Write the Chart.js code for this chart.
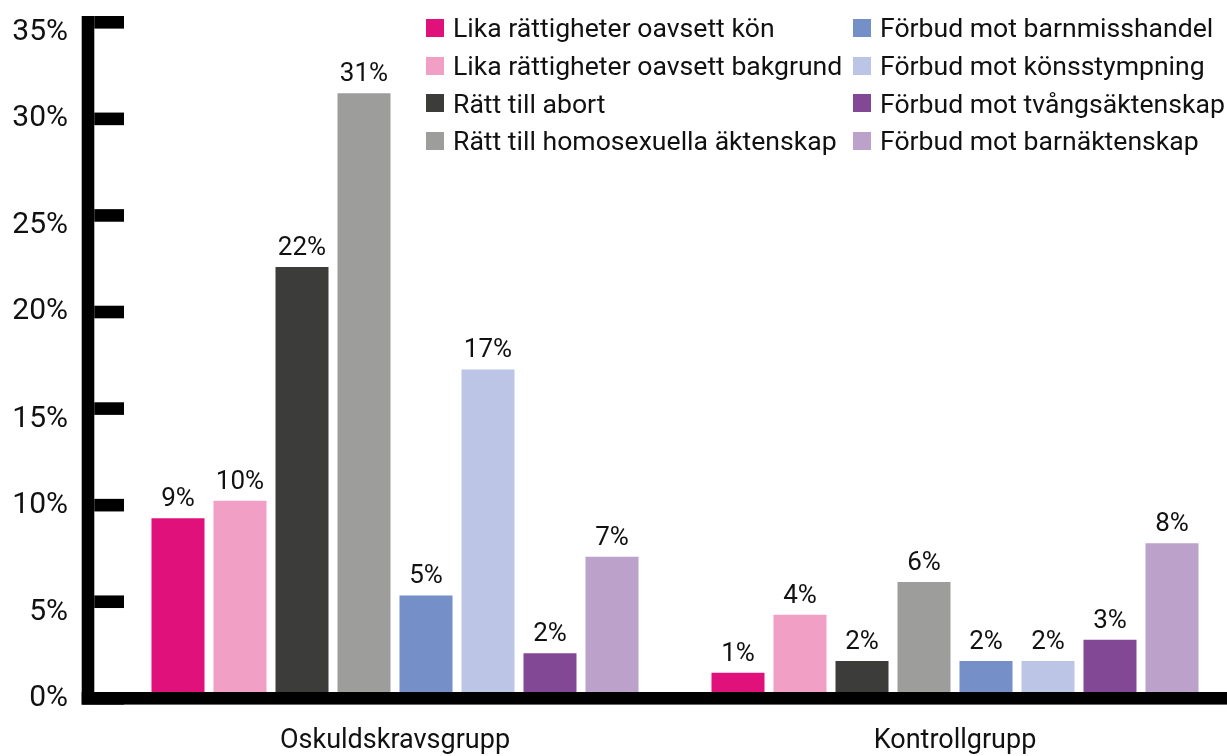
<!DOCTYPE html>
<html>
<head>
<meta charset="utf-8">
<script src="https://cdn.jsdelivr.net/npm/chart.js@4.4.1/dist/chart.umd.min.js"></script>
<style>
  html, body { margin: 0; padding: 0; background: #fff; overflow: hidden; }
  #wrap { position: relative; width: 1240px; height: 756px; }
  #legend {
    position: absolute; left: 426px; top: 9px;
    display: grid; grid-auto-flow: column;
    grid-template-rows: repeat(4, 37.7px);
    grid-template-columns: 427px auto;
    font-family: Roboto, sans-serif; font-size: 26.6px; color: #111;
  }
  .li { display: flex; align-items: center; white-space: nowrap; }
  .sw { width: 18px; height: 18px; margin-right: 9px; flex: none; }
</style>
</head>
<body>
<div id="wrap">
  <canvas id="c" width="1240" height="756"></canvas>
  <div id="legend"></div>
</div>
<script>
const categories = ['Oskuldskravsgrupp', 'Kontrollgrupp'];
const seriesNames = [
  'Lika rättigheter oavsett kön',
  'Lika rättigheter oavsett bakgrund',
  'Rätt till abort',
  'Rätt till homosexuella äktenskap',
  'Förbud mot barnmisshandel',
  'Förbud mot könsstympning',
  'Förbud mot tvångsäktenskap',
  'Förbud mot barnäktenskap'
];
const seriesColors = ['#E0117B', '#F29FC5', '#3C3C3B', '#9D9D9C', '#758FC8', '#BCC5E5', '#834895', '#BCA2CB'];
const oskuldsValues = [9, 9.9, 22, 31, 5, 16.7, 2, 7];
const kontrollValues = [1, 4, 1.6, 5.7, 1.6, 1.6, 2.7, 7.7];
const yTickValues = [0, 5, 10, 15, 20, 25, 30, 35];

const FONT = 'Roboto';

const datasets = seriesNames.map((name, i) => ({
  label: name,
  data: [oskuldsValues[i], kontrollValues[i]],
  backgroundColor: seriesColors[i],
  borderWidth: 0,
  categoryPercentage: 0.8857,
  barPercentage: 0.855
}));

const axisPlugin = {
  id: 'thickAxis',
  afterDraw(chart) {
    const ctx = chart.ctx;
    const y = chart.scales.y;
    const thick = 12.6;
    const lineX = 81.7;
    const tickEnd = 124;
    ctx.save();
    ctx.fillStyle = '#000';
    const zero = y.getPixelForValue(0);
    const top = y.getPixelForValue(yTickValues[yTickValues.length - 1]);
    ctx.fillRect(lineX, top, thick, zero + thick - top);
    ctx.fillRect(lineX, zero, chart.width - lineX, thick);
    yTickValues.forEach(v => {
      const p = y.getPixelForValue(v);
      ctx.fillRect(lineX + thick, p, tickEnd - lineX - thick, thick);
    });
    ctx.restore();
  }
};

const labelPlugin = {
  id: 'barLabels',
  afterDatasetsDraw(chart) {
    const ctx = chart.ctx;
    ctx.save();
    ctx.font = '26px ' + FONT;
    ctx.fillStyle = '#111';
    ctx.textAlign = 'center';
    ctx.textBaseline = 'alphabetic';
    chart.data.datasets.forEach((ds, di) => {
      const meta = chart.getDatasetMeta(di);
      meta.data.forEach((el, i) => {
        ctx.fillText(Math.round(ds.data[i]) + '%', el.x, el.y - 12);
      });
    });
    ctx.restore();
  }
};

const chart = new Chart(document.getElementById('c'), {
  type: 'bar',
  data: { labels: categories, datasets },
  options: {
    responsive: false,
    animation: false,
    layout: { padding: { top: 16, right: 5, bottom: 0, left: 0 } },
    plugins: {
      legend: { display: false },
      tooltip: { enabled: false }
    },
    scales: {
      x: {
        grid: { display: false, drawTicks: false },
        border: { display: true, color: '#9a9a9a', width: 1 },
        ticks: {
          padding: 33,
          color: '#111',
          font: { family: FONT, size: 27 }
        },
        afterFit(s) { s.height = 64; }
      },
      y: {
        min: 0, max: 35,
        grid: { display: false, drawTicks: false },
        border: { display: false },
        afterBuildTicks(s) { s.ticks = yTickValues.map(v => ({ value: v })); },
        ticks: {
          padding: 47,
          labelOffset: 6.2,
          color: '#111',
          font: { family: FONT, size: 30, lineHeight: 0.7067 },
          // odd steps sit a little lower in the reference: push them onto a second line
          callback: (v, i) => (i % 2 === 1 ? ['', v + '%'] : v + '%')
        },
        afterFit(s) { s.width = 115; s.paddingTop = 0; s.paddingBottom = 0; }
      }
    }
  },
  plugins: [axisPlugin, labelPlugin]
});

const legendEl = document.getElementById('legend');
chart.options.plugins.legend.labels.generateLabels(chart).forEach(item => {
  const d = document.createElement('div');
  d.className = 'li';
  const sw = document.createElement('span');
  sw.className = 'sw';
  sw.style.background = item.fillStyle;
  const t = document.createElement('span');
  t.textContent = item.text;
  d.appendChild(sw);
  d.appendChild(t);
  legendEl.appendChild(d);
});
</script>
</body>
</html>
